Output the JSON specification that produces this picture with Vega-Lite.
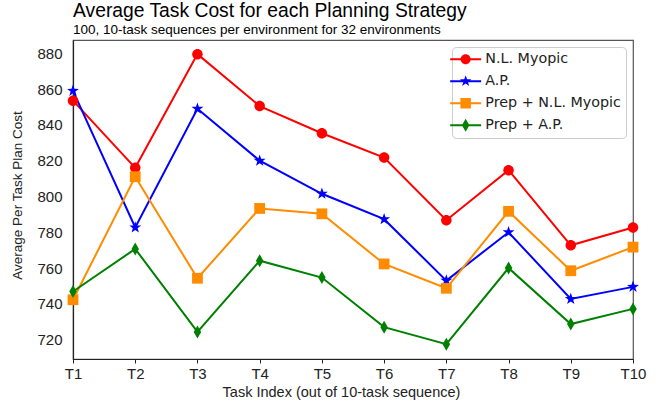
{
  "$schema": "https://vega.github.io/schema/vega-lite/v6.json",
  "width": 560,
  "height": 319,
  "autosize": "none",
  "padding": {"left": 73, "top": 40, "right": 29, "bottom": 48},
  "title": {
    "text": "Average Task Cost for each Planning Strategy",
    "subtitle": "100, 10-task sequences per environment for 32 environments",
    "anchor": "start",
    "frame": "group",
    "font": "Liberation Sans",
    "fontSize": 19.3,
    "fontWeight": "normal",
    "color": "black",
    "subtitleFont": "Liberation Sans",
    "subtitleFontSize": 13.5,
    "subtitleColor": "black",
    "subtitlePadding": 1,
    "offset": 4
  },
  "config": {
    "view": {"stroke": "#555555", "strokeWidth": 1.2},
    "axis": {
      "grid": false,
      "domainColor": "#222222",
      "domainWidth": 1.2,
      "labelFont": "Liberation Sans",
      "labelFontSize": 15,
      "labelColor": "#222222",
      "titleFont": "Liberation Sans",
      "titleFontSize": 14,
      "titleFontWeight": "normal",
      "titleColor": "#222222"
    }
  },
  "data": {
    "values": [
      {"series": "N.L. Myopic", "task": "T1", "cost": 853.5},
      {"series": "N.L. Myopic", "task": "T2", "cost": 816.0},
      {"series": "N.L. Myopic", "task": "T3", "cost": 879.5},
      {"series": "N.L. Myopic", "task": "T4", "cost": 850.5},
      {"series": "N.L. Myopic", "task": "T5", "cost": 835.3},
      {"series": "N.L. Myopic", "task": "T6", "cost": 821.7},
      {"series": "N.L. Myopic", "task": "T7", "cost": 786.7},
      {"series": "N.L. Myopic", "task": "T8", "cost": 814.7},
      {"series": "N.L. Myopic", "task": "T9", "cost": 772.7},
      {"series": "N.L. Myopic", "task": "T10", "cost": 782.7},
      {"series": "A.P.", "task": "T1", "cost": 859.0},
      {"series": "A.P.", "task": "T2", "cost": 782.7},
      {"series": "A.P.", "task": "T3", "cost": 849.0},
      {"series": "A.P.", "task": "T4", "cost": 820.0},
      {"series": "A.P.", "task": "T5", "cost": 801.5},
      {"series": "A.P.", "task": "T6", "cost": 787.3},
      {"series": "A.P.", "task": "T7", "cost": 753.0},
      {"series": "A.P.", "task": "T8", "cost": 780.0},
      {"series": "A.P.", "task": "T9", "cost": 742.7},
      {"series": "A.P.", "task": "T10", "cost": 749.5},
      {"series": "Prep + N.L. Myopic", "task": "T1", "cost": 742.3},
      {"series": "Prep + N.L. Myopic", "task": "T2", "cost": 811.0},
      {"series": "Prep + N.L. Myopic", "task": "T3", "cost": 754.3},
      {"series": "Prep + N.L. Myopic", "task": "T4", "cost": 793.3},
      {"series": "Prep + N.L. Myopic", "task": "T5", "cost": 790.3},
      {"series": "Prep + N.L. Myopic", "task": "T6", "cost": 762.3},
      {"series": "Prep + N.L. Myopic", "task": "T7", "cost": 748.7},
      {"series": "Prep + N.L. Myopic", "task": "T8", "cost": 791.7},
      {"series": "Prep + N.L. Myopic", "task": "T9", "cost": 758.5},
      {"series": "Prep + N.L. Myopic", "task": "T10", "cost": 771.7},
      {"series": "Prep + A.P.", "task": "T1", "cost": 746.9},
      {"series": "Prep + A.P.", "task": "T2", "cost": 770.7},
      {"series": "Prep + A.P.", "task": "T3", "cost": 724.3},
      {"series": "Prep + A.P.", "task": "T4", "cost": 764.1},
      {"series": "Prep + A.P.", "task": "T5", "cost": 754.7},
      {"series": "Prep + A.P.", "task": "T6", "cost": 727.0},
      {"series": "Prep + A.P.", "task": "T7", "cost": 717.5},
      {"series": "Prep + A.P.", "task": "T8", "cost": 760.0},
      {"series": "Prep + A.P.", "task": "T9", "cost": 728.7},
      {"series": "Prep + A.P.", "task": "T10", "cost": 737.2}
    ]
  },
  "encoding": {
    "x": {
      "field": "task",
      "type": "ordinal",
      "sort": ["T1", "T2", "T3", "T4", "T5", "T6", "T7", "T8", "T9", "T10"],
      "scale": {"type": "point", "padding": 0},
      "axis": {
        "title": "Task Index (out of 10-task sequence)",
        "titleFontSize": 14.5,
        "titleX": 268,
        "labelAngle": 0,
        "tickSize": 4,
        "tickColor": "#222222",
        "labelPadding": 3,
        "titlePadding": 4
      }
    },
    "y": {
      "field": "cost",
      "type": "quantitative",
      "scale": {"domain": [709.2, 887.4], "nice": false, "zero": false},
      "axis": {
        "title": "Average Per Task Plan Cost",
        "titleFontSize": 13.5,
        "titleY": 155,
        "values": [720, 740, 760, 780, 800, 820, 840, 860, 880],
        "ticks": false,
        "labelPadding": 11,
        "titlePadding": 12
      }
    }
  },
  "layer": [
    {
      "mark": {"type": "line", "strokeWidth": 2},
      "encoding": {
        "color": {
          "field": "series",
          "type": "nominal",
          "scale": {
            "domain": ["N.L. Myopic", "A.P.", "Prep + N.L. Myopic", "Prep + A.P."],
            "range": ["#ff0000", "#0000ff", "#ff8c00", "#008000"]
          },
          "legend": null
        }
      }
    },
    {
      "mark": {"type": "point", "filled": true, "opacity": 1, "size": 100},
      "encoding": {
        "color": {
          "field": "series",
          "type": "nominal",
          "scale": {
            "domain": ["N.L. Myopic", "A.P.", "Prep + N.L. Myopic", "Prep + A.P."],
            "range": ["#ff0000", "#0000ff", "#ff8c00", "#008000"]
          },
          "legend": null
        },
        "shape": {
          "field": "series",
          "type": "nominal",
          "scale": {
            "domain": ["N.L. Myopic", "A.P.", "Prep + N.L. Myopic", "Prep + A.P."],
            "range": [
              "M1.05,0A1.05,1.05,0,1,1,-1.05,0A1.05,1.05,0,1,1,1.05,0Z",
              "M0,-1.25L0.294,-0.405L1.189,-0.386L0.475,0.154L0.735,1.011L0,0.5L-0.735,1.011L-0.475,0.154L-1.189,-0.386L-0.294,-0.405Z",
              "M-1.08,-1.08H1.08V1.08H-1.08Z",
              "M0,-1.3L0.75,0L0,1.3L-0.75,0Z"
            ]
          },
          "legend": null
        }
      }
    },
    {
      "transform": [{"filter": "datum.cost < 0"}],
      "mark": {"type": "point", "filled": true, "opacity": 1, "size": 100},
      "encoding": {
        "color": {
          "field": "series",
          "type": "nominal",
          "scale": {
            "domain": ["N.L. Myopic", "A.P.", "Prep + N.L. Myopic", "Prep + A.P."],
            "range": ["#ff0000", "#0000ff", "#ff8c00", "#008000"]
          },
          "legend": {
            "title": null,
            "orient": "top-right",
            "offset": 7,
            "padding": 5,
            "labelOffset": 14,
            "rowPadding": 7,
            "labelFont": "DejaVu Sans",
            "labelFontSize": 14.3,
            "labelColor": "#222222",
            "fillColor": "white",
            "strokeColor": "#cccccc",
            "cornerRadius": 4,
            "symbolSize": 100,
            "symbolStrokeWidth": 0
          }
        },
        "shape": {
          "field": "series",
          "type": "nominal",
          "scale": {
            "domain": ["N.L. Myopic", "A.P.", "Prep + N.L. Myopic", "Prep + A.P."],
            "range": [
              "M-2.8,-0.2H3.4V0.2H-2.8ZM1.3,0A1,1,0,1,1,-0.7,0A1,1,0,1,1,1.3,0Z",
              "M-2.8,-0.2H3.4V0.2H-2.8ZM0.3,-1.2L0.582,-0.388L1.441,-0.371L0.756,0.148L1.005,0.971L0.3,0.48L-0.405,0.971L-0.156,0.148L-0.841,-0.371L0.018,-0.388Z",
              "M-2.8,-0.2H3.4V0.2H-2.8ZM-0.75,-1.05H1.35V1.05H-0.75Z",
              "M-2.8,-0.2H3.4V0.2H-2.8ZM0.3,-1.3L1.05,0L0.3,1.3L-0.45,0Z"
            ]
          },
          "legend": {
            "title": null,
            "orient": "top-right",
            "offset": 7,
            "padding": 5,
            "labelOffset": 14,
            "rowPadding": 7,
            "labelFont": "DejaVu Sans",
            "labelFontSize": 14.3,
            "labelColor": "#222222",
            "fillColor": "white",
            "strokeColor": "#cccccc",
            "cornerRadius": 4,
            "symbolSize": 100,
            "symbolStrokeWidth": 0
          }
        }
      }
    }
  ],
  "resolve": {"scale": {"shape": "independent", "color": "independent"}}
}
